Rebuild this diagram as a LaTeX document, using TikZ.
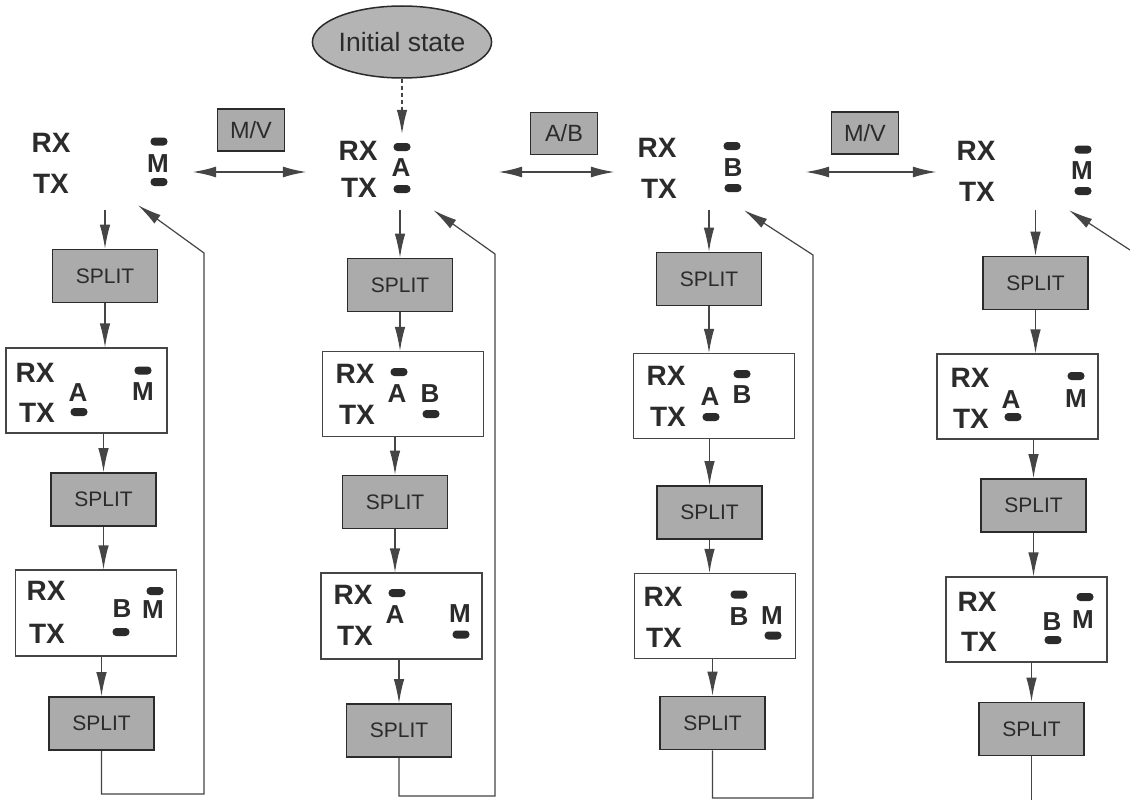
\documentclass[tikz,border=0pt]{standalone}
\usepackage{fontspec}
\setmainfont{Liberation Sans}
\usetikzlibrary{arrows.meta,calc,positioning,shapes.geometric}
\definecolor{ink}{HTML}{2B2B2B}
\definecolor{wire}{HTML}{454545}
\definecolor{keygray}{HTML}{ABABAB}
\definecolor{ovalgray}{HTML}{B4B4B4}

\begin{document}
\begin{tikzpicture}[x=1pt,y=-1pt,
  flow/.style={-{Latex[length=24pt,width=10.5pt]},line width=1.2pt,draw=wire},
  link/.style={line width=1.2pt,draw=wire},
  twoway/.style={{Latex[length=24pt,width=11pt]}-{Latex[length=24pt,width=11pt]},
                 line width=2pt,draw=wire},
  splitkey/.style={draw=ink,line width=1.6pt,fill=keygray,text=ink,inner sep=0,
                   font=\fontsize{21}{24}\selectfont,minimum width=105pt,minimum height=53pt},
  toggle/.style={splitkey,font=\fontsize{23.5}{26}\selectfont,minimum width=67pt,minimum height=42pt},
  display/.style={draw=wire,line width=1.1pt,fill=white,inner sep=0,
                  minimum width=161pt,minimum height=85pt},
  panel/.style={inner sep=0,minimum height=76pt},
  chan/.style={text=ink,inner sep=0,font=\bfseries\fontsize{28}{30}\selectfont},
  vfo/.style={text=ink,inner sep=0,font=\bfseries\fontsize{26}{28}\selectfont},
  pill/.style={fill=ink,rounded corners=3.8pt,inner sep=0,minimum width=17pt,minimum height=8pt}
]
\path[use as bounding box,fill=white] (0,0) rectangle (1130,800);

\node[ellipse,draw=ink,line width=1.5pt,fill=ovalgray,text=ink,inner sep=0,
      minimum width=170pt,minimum height=72pt,font=\fontsize{26.5}{28}\selectfont]
  (init) at (402,42) {Initial state};

\node[panel,minimum width=176pt] (p1) at (104,172) {};
\node[panel,minimum width=191pt] (p2) at (402.5,172) {};
\node[panel,minimum width=190pt] (p3) at (710,172) {};
\node[panel,minimum width=196pt] (p4) at (1035,172) {};

\node[toggle] (mv1) at (251,130) {M/V};
\node[toggle] (ab) at (564,133.5) {A/B};
\node[toggle] (mv2) at (865,133) {M/V};

\node[splitkey] (k1a) at (105,276) {SPLIT};
\node[splitkey] (k1b) at (103.5,499.5) {SPLIT};
\node[splitkey] (k1c) at (101.5,723.5) {SPLIT};
\node[splitkey] (k2a) at (400,285) {SPLIT};
\node[splitkey] (k2b) at (395,502) {SPLIT};
\node[splitkey] (k2c) at (399,730.5) {SPLIT};
\node[splitkey] (k3a) at (709,279) {SPLIT};
\node[splitkey] (k3b) at (709.5,512.5) {SPLIT};
\node[splitkey] (k3c) at (712.5,723) {SPLIT};
\node[splitkey] (k4a) at (1035.5,283) {SPLIT};
\node[splitkey] (k4b) at (1033.5,505.5) {SPLIT};
\node[splitkey] (k4c) at (1031.5,729) {SPLIT};

\node[display] (s1a) at (86.5,390.5) {};
\node[display,minimum height=86pt] (s1b) at (96,613) {};
\node[display] (s2a) at (403,394) {};
\node[display,minimum height=86pt] (s2b) at (401.5,616) {};
\node[display] (s3a) at (714,396) {};
\node[display] (s3b) at (715,616) {};
\node[display] (s4a) at (1017.5,396.5) {};
\node[display] (s4b) at (1026.5,619.5) {};

% top row
\node[chan] (rx-p1) at (51,143) {RX};
\node[chan] (tx-p1) at (51,184) {TX};
\node[pill] (hi-p1) at (159,141.5) {};
\node[vfo] (m-p1) at (158,163.5) {M};
\node[pill] (lo-p1) at (159,182) {};

\node[chan] (rx-p2) at (358,151) {RX};
\node[chan] (tx-p2) at (359,188) {TX};
\node[pill] (hi-p2) at (402,147) {};
\node[vfo] (a-p2) at (401,168) {A};
\node[pill] (lo-p2) at (402,189) {};

\node[chan] (rx-p3) at (657,148) {RX};
\node[chan] (tx-p3) at (659,189) {TX};
\node[pill] (hi-p3) at (732,146) {};
\node[vfo] (b-p3) at (733,168) {B};
\node[pill] (lo-p3) at (733,188) {};

\node[chan] (rx-p4) at (976,151) {RX};
\node[chan] (tx-p4) at (977,192) {TX};
\node[pill] (hi-p4) at (1083,149.5) {};
\node[vfo] (m-p4) at (1082,171) {M};
\node[pill] (lo-p4) at (1083,191) {};

% boxed displays
\node[chan] (rx-s1a) at (35,372.5) {RX};
\node[chan] (tx-s1a) at (37,413) {TX};
\node[vfo] (a-s1a) at (78,393) {A};
\node[pill] (lo-s1a) at (79,412) {};
\node[pill] (hi-s1a) at (143,370.5) {};
\node[vfo] (m-s1a) at (143,392) {M};

\node[chan] (rx-s1b) at (46,591) {RX};
\node[chan] (tx-s1b) at (47,634) {TX};
\node[vfo] (b-s1b) at (122,609) {B};
\node[pill] (lo-s1b) at (121,632) {};
\node[pill] (hi-s1b) at (155,591) {};
\node[vfo] (m-s1b) at (153,610) {M};

\node[chan] (rx-s2a) at (355,374) {RX};
\node[chan] (tx-s2a) at (357,415) {TX};
\node[pill] (hi-s2a) at (399,372) {};
\node[vfo] (a-s2a) at (397,394) {A};
\node[vfo] (b-s2a) at (430,394) {B};
\node[pill] (lo-s2a) at (431,414) {};

\node[chan] (rx-s2b) at (353,595) {RX};
\node[chan] (tx-s2b) at (355,636) {TX};
\node[pill] (hi-s2b) at (397,593) {};
\node[vfo] (a-s2b) at (395,615) {A};
\node[vfo] (m-s2b) at (460,614) {M};
\node[pill] (lo-s2b) at (461,634.5) {};

\node[chan] (rx-s3a) at (666,376) {RX};
\node[chan] (tx-s3a) at (668,417) {TX};
\node[vfo] (a-s3a) at (710,397) {A};
\node[pill] (lo-s3a) at (711,417) {};
\node[pill] (hi-s3a) at (742,374) {};
\node[vfo] (b-s3a) at (742,395) {B};

\node[chan] (rx-s3b) at (663,597) {RX};
\node[chan] (tx-s3b) at (664,638) {TX};
\node[pill] (hi-s3b) at (739,594.5) {};
\node[vfo] (b-s3b) at (739,617) {B};
\node[vfo] (m-s3b) at (772,616) {M};
\node[pill] (lo-s3b) at (773,635.5) {};

\node[chan] (rx-s4a) at (970,378) {RX};
\node[chan] (tx-s4a) at (971,419) {TX};
\node[vfo] (a-s4a) at (1011,400) {A};
\node[pill] (lo-s4a) at (1013,417) {};
\node[pill] (hi-s4a) at (1076,376) {};
\node[vfo] (m-s4a) at (1076,398.5) {M};

\node[chan] (rx-s4b) at (977,602) {RX};
\node[chan] (tx-s4b) at (979,642) {TX};
\node[vfo] (b-s4b) at (1052,622) {B};
\node[pill] (lo-s4b) at (1053,640) {};
\node[pill] (hi-s4b) at (1085,597) {};
\node[vfo] (m-s4b) at (1083,619.5) {M};

% connectors
\draw[flow,dash pattern=on 4pt off 3pt] (init.south) -- (init.south |- p2.north);
\draw[twoway] (p1) -- (p2);
\draw[twoway] (p2) -- (p3);
\draw[twoway] (p3) -- (p4);

\draw[flow] (p1.south -| k1a.north) -- (k1a.north);
\draw[flow] (k1a.south) -- (k1a.south |- s1a.north);
\draw[flow] (k1b.north |- s1a.south) -- (k1b.north);
\draw[flow] (k1b.south) -- (k1b.south |- s1b.north);
\draw[flow] (k1c.north |- s1b.south) -- (k1c.north);

\draw[flow] (p2.south -| k2a.north) -- (k2a.north);
\draw[flow] (k2a.south) -- (k2a.south |- s2a.north);
\draw[flow] (k2b.north |- s2a.south) -- (k2b.north);
\draw[flow] (k2b.south) -- (k2b.south |- s2b.north);
\draw[flow] (k2c.north |- s2b.south) -- (k2c.north);

\draw[flow] (p3.south -| k3a.north) -- (k3a.north);
\draw[flow] (k3a.south) -- (k3a.south |- s3a.north);
\draw[flow] (k3b.north |- s3a.south) -- (k3b.north);
\draw[flow] (k3b.south) -- (k3b.south |- s3b.north);
\draw[flow] (k3c.north |- s3b.south) -- (k3c.north);

\draw[flow] (p4.south -| k4a.north) -- (k4a.north);
\draw[flow] (k4a.south) -- (k4a.south |- s4a.north);
\draw[flow] (k4b.north |- s4a.south) -- (k4b.north);
\draw[flow] (k4b.south) -- (k4b.south |- s4b.north);
\draw[flow] (k4c.north |- s4b.south) -- (k4c.north);

\coordinate (b1) at (204,794);
\coordinate (c1) at (204,253);
\coordinate (b2) at (495,796);
\coordinate (c2) at (495,254);
\coordinate (b3) at (813,798);
\coordinate (c3) at (813,255);
\coordinate (b4) at (1031.5,800);
\coordinate (c4) at (1130,250);

\draw[flow] (k1c.south) |- (b1) -- (c1) -- ($(p1.south)+(34,-5)$);
\draw[flow] (k2c.south) |- (b2) -- (c2) -- ($(p2.south)+(31,0)$);
\draw[flow] (k3c.south) |- (b3) -- (c3) -- ($(p3.south)+(34,0)$);
\draw[link] (k4c.south) -- (b4);
\draw[flow] (c4) -- ($(p4.south)+(34,0)$);
\end{tikzpicture}
\end{document}
